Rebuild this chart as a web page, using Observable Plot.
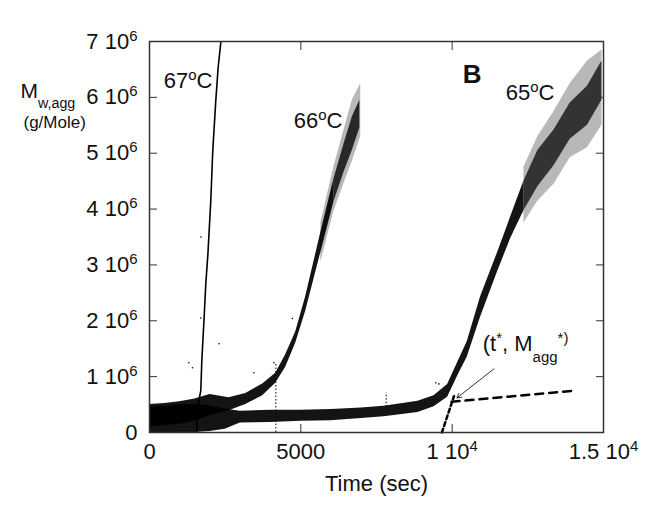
<!DOCTYPE html>
<html>
<head>
<meta charset="utf-8">
<script src="https://cdn.jsdelivr.net/npm/d3@7"></script>
<script src="https://cdn.jsdelivr.net/npm/@observablehq/plot@0.6"></script>
<style>
  html, body { margin: 0; padding: 0; background: #fff; }
  #chart { width: 651px; height: 511px; }
</style>
</head>
<body>
<div id="chart"></div>
<script>
// ---- Data (time in s, M in units of 10^6 g/Mole) ----
// 67 °C : thin trace
const t67 = [1560, 1585, 1640, 1695, 1728, 1805, 1860, 1930, 2025, 2090, 2190, 2267, 2355];
const m67 = [0.0, 0.45, 0.6, 0.75, 1.28, 2.06, 2.66, 3.2, 4.15, 5.04, 5.94, 6.53, 6.98];

// 66 °C : dense band (low / high envelope of the scatter)
const t66   = [0, 500, 1000, 1500, 2000, 2630, 3180, 3740, 4170, 4500, 4830, 5160, 5660, 6090, 6420, 6700, 6950];
const lo66  = [0.1, 0.12, 0.15, 0.2, 0.3, 0.39, 0.5, 0.66, 0.88, 1.17, 1.6, 2.17, 3.22, 4.12, 4.65, 5.05, 5.45];
const hi66  = [0.5, 0.52, 0.55, 0.6, 0.68, 0.62, 0.7, 0.87, 1.06, 1.39, 1.8, 2.43, 3.58, 4.53, 5.15, 5.65, 5.95];
// 66 °C : sparse outer scatter near the top
const t66s  = [5660, 6090, 6420, 6700, 6980];
const lo66s = [3.05, 3.95, 4.45, 4.85, 5.3];
const hi66s = [3.75, 4.75, 5.4, 5.95, 6.25];

// 65 °C : dense band
const t65   = [0, 500, 1000, 1500, 2000, 2500, 3000, 4000, 5000, 6000, 7000, 7750, 8870, 9400, 9850, 10190, 10500, 10940, 11500, 11940, 12370, 12830, 13370, 13900, 14470, 14950];
const lo65  = [0.0, 0.0, 0.0, 0.0, 0.02, 0.06, 0.17, 0.18, 0.2, 0.21, 0.25, 0.28, 0.36, 0.46, 0.63, 1.02, 1.35, 2.07, 2.88, 3.48, 3.97, 4.4, 4.78, 5.25, 5.5, 5.95];
const hi65  = [0.45, 0.47, 0.5, 0.5, 0.48, 0.42, 0.38, 0.4, 0.4, 0.41, 0.44, 0.47, 0.56, 0.66, 0.86, 1.26, 1.63, 2.43, 3.22, 3.87, 4.5, 5.05, 5.42, 5.9, 6.2, 6.65];
// 65 °C : sparse outer scatter near the top
const t65s  = [12370, 12830, 13370, 13900, 14470, 14950];
const lo65s = [3.75, 4.14, 4.45, 4.92, 5.1, 5.5];
const hi65s = [4.75, 5.3, 5.75, 6.25, 6.65, 6.85];

// isolated scatter columns and outlier points
const spikeT  = [4175, 7820];
const spikeLo = [0.0, 0.39];
const spikeHi = [1.25, 0.71];
const outT = [1300, 1420, 1695, 1700, 2300, 3450, 4110, 4720, 9460, 9560];
const outM = [1.25, 1.16, 2.05, 3.5, 1.59, 1.07, 1.25, 2.04, 0.89, 0.87];

// fitted tangent lines (dashed) and annotation arrow
const steepT = [9660, 10060];
const steepM = [0.0, 0.65];
const flatT  = [9980, 14080];
const flatM  = [0.55, 0.75];
const arrowFrom = [11380, 1.14];
const arrowTo   = [10160, 0.62];

// labels anchored in data coordinates
const labelText = ["67^{o}C", "66^{o}C", "65^{o}C", "(t^{*}, M_{agg}^{*)}"];
const labelT    = [472, 4767, 11771, 11011];
const labelM    = [6.17, 5.45, 5.96, 1.46];
const panelText = ["B"];
const panelT = [10350];
const panelM = [6.26];

// ticks
const xTickVals = [0, 5000, 10000, 15000];
const xTickText = ["0", "5000", "1 10^{4}", "1.5 10^{4}"];
const xInner = [5000, 10000];
const yTickVals = [0, 1, 2, 3, 4, 5, 6, 7];
const yTickText = ["0", "1 10^{6}", "2 10^{6}", "3 10^{6}", "4 10^{6}", "5 10^{6}", "6 10^{6}", "7 10^{6}"];
const yInner = [1, 2, 3, 4, 5, 6];
const xTitle = ["Time (sec)"];
const yTitle1 = ["M_{w,agg}"];
const yTitle2 = ["(g/Mole)"];

// ---- tables ----
const band = (t, lo, hi) => t.map((v, i) => ({t: v, lo: lo[i], hi: hi[i]}));
const pts = (t, m) => t.map((v, i) => ({t: v, m: m[i]}));
const d67 = pts(t67, m67);
const b66 = band(t66, lo66, hi66), b66s = band(t66s, lo66s, hi66s);
const b65 = band(t65, lo65, hi65), b65s = band(t65s, lo65s, hi65s);
// split the dense bands where the scatter becomes speckled
const b66a = b66.filter(d => d.t <= 6090), b66b = b66.filter(d => d.t >= 6090);
const b65a = b65.filter(d => d.t <= 12370), b65b = b65.filter(d => d.t >= 12370);
const spikes = band(spikeT, spikeLo, spikeHi);
const outliers = pts(outT, outM);
const steep = pts(steepT, steepM), flat = pts(flatT, flatM);
const labels = labelText.map((s, i) => ({s, t: labelT[i], m: labelM[i]}));
const panel = panelText.map((s, i) => ({s, t: panelT[i], m: panelM[i]}));

const ink = "#000";
const frameColor = "#333";

const svg = Plot.plot({
  width: 651,
  height: 511,
  marginLeft: 149,
  marginRight: 48,
  marginTop: 41,
  marginBottom: 79,
  x: {domain: [0, 15000]},
  y: {domain: [0, 7]},
  style: {fontFamily: "'Liberation Sans', Arial, sans-serif", background: "#fff", color: "#000"},
  marks: [
    Plot.areaY(b65s, {x: "t", y1: "lo", y2: "hi", fill: ink, fillOpacity: 0.28}),
    Plot.areaY(b66s, {x: "t", y1: "lo", y2: "hi", fill: ink, fillOpacity: 0.28}),
    Plot.areaY(b65a, {x: "t", y1: "lo", y2: "hi", fill: ink, fillOpacity: 0.92}),
    Plot.areaY(b65b, {x: "t", y1: "lo", y2: "hi", fill: ink, fillOpacity: 0.72}),
    Plot.areaY(b66a, {x: "t", y1: "lo", y2: "hi", fill: ink, fillOpacity: 0.92}),
    Plot.areaY(b66b, {x: "t", y1: "lo", y2: "hi", fill: ink, fillOpacity: 0.78}),
    Plot.ruleX(spikes, {x: "t", y1: "lo", y2: "hi", stroke: ink, strokeWidth: 1, strokeDasharray: "1.5,2"}),
    Plot.dot(outliers, {x: "t", y: "m", r: 0.8, fill: ink}),
    Plot.line(d67, {x: "t", y: "m", stroke: ink, strokeWidth: 1.6}),
    Plot.line(steep, {x: "t", y: "m", stroke: ink, strokeWidth: 2.5, strokeDasharray: "4,3"}),
    Plot.line(flat, {x: "t", y: "m", stroke: ink, strokeWidth: 2.5, strokeDasharray: "8,6"}),
    Plot.arrow([0], {x1: () => arrowFrom[0], y1: () => arrowFrom[1], x2: () => arrowTo[0], y2: () => arrowTo[1], stroke: ink, strokeWidth: 0.8, headLength: 9}),
    Plot.text(labels, {x: "t", y: "m", text: "s", textAnchor: "start", lineAnchor: "bottom", fontSize: 22, fill: "#111"}),
    Plot.text(panel, {x: "t", y: "m", text: "s", textAnchor: "start", lineAnchor: "bottom", fontSize: 26, fontWeight: "bold", fill: "#111"}),
    // inward ticks
    Plot.axisX(xInner, {anchor: "bottom", tickSize: -8, tickFormat: () => "", label: null, stroke: frameColor}),
    Plot.axisX(xInner, {anchor: "top", tickSize: -8, tickFormat: () => "", label: null, stroke: frameColor}),
    Plot.axisY(yInner, {anchor: "left", tickSize: -8, tickFormat: () => "", label: null, stroke: frameColor}),
    Plot.axisY(yInner, {anchor: "right", tickSize: -8, tickFormat: () => "", label: null, stroke: frameColor}),
    // tick labels
    Plot.text(xTickVals, {x: d => d, text: (d, i) => xTickText[i], frameAnchor: "bottom", lineAnchor: "top", dy: 11, fontSize: 22, fill: "#111"}),
    Plot.text(yTickVals, {y: d => d, text: (d, i) => yTickText[i], frameAnchor: "left", textAnchor: "end", dx: -12, fontSize: 22, fill: "#111"}),
    // axis titles
    Plot.text(xTitle, {text: d => d, frameAnchor: "bottom", lineAnchor: "bottom", dy: 58, fontSize: 22, fill: "#111"}),
    Plot.text(yTitle1, {text: d => d, frameAnchor: "top-left", textAnchor: "start", lineAnchor: "bottom", dx: -129, dy: 56, fontSize: 21, fill: "#111"}),
    Plot.text(yTitle2, {text: d => d, frameAnchor: "top-left", textAnchor: "start", lineAnchor: "bottom", dx: -126, dy: 86, fontSize: 17, fill: "#111"}),
    Plot.frame({stroke: frameColor, strokeWidth: 1.5})
  ]
});

document.getElementById("chart").appendChild(svg);

// ---- turn ^{..} and _{..} into superscript / subscript tspans ----
function richify(el) {
  const s = el.textContent;
  if (!/[\^_]/.test(s)) return;
  const fs = parseFloat(getComputedStyle(el).fontSize) || 16;
  const re = /\^\{([^}]*)\}|_\{([^}]*)\}|([^\^_]+)/g;
  const segs = [];
  let m;
  while ((m = re.exec(s)) !== null) {
    if (m[1] !== undefined) segs.push({txt: m[1], mode: "sup"});
    else if (m[2] !== undefined) segs.push({txt: m[2], mode: "sub"});
    else segs.push({txt: m[3], mode: "n"});
  }
  while (el.firstChild) el.removeChild(el.firstChild);
  let cur = 0;
  const ns = "http://www.w3.org/2000/svg";
  for (const seg of segs) {
    const target = seg.mode === "sup" ? -0.36 * fs : seg.mode === "sub" ? 0.5 * fs : 0;
    const ts = document.createElementNS(ns, "tspan");
    ts.textContent = seg.txt;
    const dy = target - cur;
    if (Math.abs(dy) > 0.01) ts.setAttribute("dy", dy.toFixed(2));
    if (seg.mode !== "n") ts.setAttribute("font-size", (fs * 0.68).toFixed(2));
    cur = target;
    el.appendChild(ts);
  }
}
svg.querySelectorAll("text").forEach(richify);
</script>
</body>
</html>
